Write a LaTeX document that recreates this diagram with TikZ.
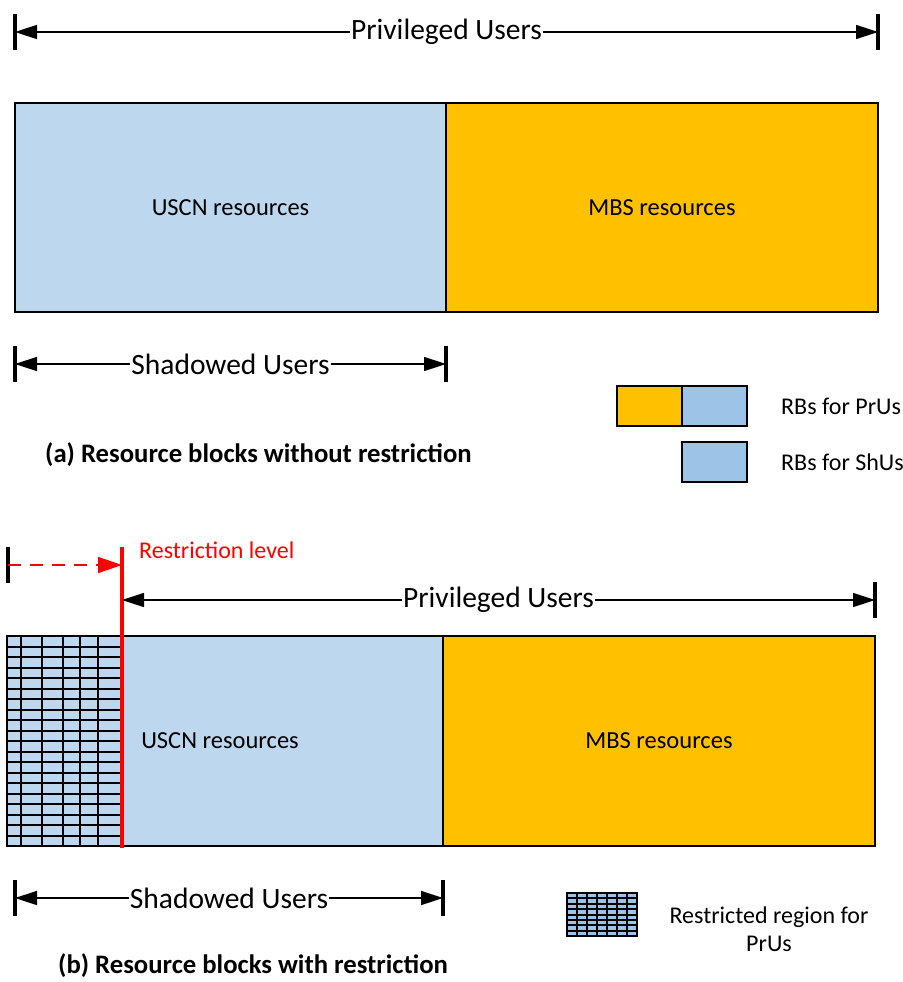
\documentclass[tikz,border=0pt]{standalone}
\usepackage{fontspec}
\setmainfont{Carlito}
\usepackage{tikz}
\usetikzlibrary{positioning}
\usetikzlibrary{arrows.meta}
\definecolor{uscnblue}{HTML}{BDD7EE}
\definecolor{legendblue}{HTML}{9DC3E6}
\definecolor{mbsorange}{HTML}{FFC000}
\definecolor{restrictred}{HTML}{FF0000}
\tikzstyle{res block}=[draw,line width=1.5pt,inner sep=0pt,outer sep=0pt,font=\fontsize{24.5}{28}\selectfont]
\tikzstyle{legend box}=[draw,line width=1.5pt,inner sep=0pt,outer sep=0pt,minimum width=65pt,minimum height=40pt]
\tikzstyle{legend text}=[anchor=west,inner sep=0pt,font=\fontsize{24}{28}\selectfont]
\tikzstyle{caption text}=[anchor=west,inner sep=0pt,font=\fontsize{26.7}{30}\bfseries\selectfont]
\tikzstyle{dim tick}=[line width=3.5pt]
\tikzstyle{dim edge}=[{Triangle[length=22pt,width=14pt]}-{Triangle[length=22pt,width=14pt]},line width=1.5pt]
\tikzstyle{dim label}=[fill=white,inner xsep=1pt,inner ysep=0pt,font=\fontsize{29.5}{32}\selectfont]
\tikzstyle{grid edge}=[line width=2pt]
\tikzstyle{restrict edge}=[-{Triangle[length=24pt,width=16pt]},restrictred,line width=1.5pt,dash pattern=on 13pt off 9pt]
\newcommand{\dimend}[3]{
  \coordinate (#1) at (#2,#3);
  \draw[dim tick] ([yshift=18pt]#1) -- ([yshift=-18pt]#1)
}

\begin{document}
\begin{tikzpicture}[x=1pt,y=-1pt]
        \useasboundingbox (0,0) rectangle (902,982);

        \dimend{pal}{15}{32};
        \dimend{par}{878}{32};
        \draw[dim edge] (pal) -- node[dim label]{Privileged Users} (par);

        \node[res block,anchor=north west,fill=uscnblue,minimum width=431pt,minimum height=209pt] (uscnA) at (15,103) {USCN resources};
        \node[res block,right=0pt of uscnA,fill=mbsorange,minimum width=432pt,minimum height=209pt] (mbsA) {MBS resources};

        \dimend{sal}{15}{364};
        \dimend{sar}{446}{364};
        \draw[dim edge] (sal) -- node[dim label]{Shadowed Users} (sar);

        \node[legend box,anchor=north west,fill=mbsorange] (legPrO) at (617,386) {};
        \node[legend box,right=0pt of legPrO,fill=legendblue] (legPrB) {};
        \node[legend text,right=34pt of legPrB] (legPrT) {RBs for PrUs};
        \node[legend box,below=16pt of legPrB,fill=legendblue] (legSh) {};
        \node[legend text,right=34pt of legSh] (legShT) {RBs for ShUs};

        \node[caption text] (capA) at (45,455) {(a) Resource blocks without restriction};

        \node[res block,anchor=north west,fill=uscnblue,minimum width=436pt,minimum height=210pt] (uscnB) at (7,636) {\hspace*{-10pt}USCN resources};
        \node[res block,right=0pt of uscnB,fill=mbsorange,minimum width=432pt,minimum height=210pt] (mbsB) {MBS resources};

        \coordinate (rtop) at (122,547);
        \coordinate (rbot) at (122,848);
        \foreach \gx in {14,35,56,73,91}
          \draw[grid edge] ([xshift=\gx pt]uscnB.north west) -- ([xshift=\gx pt]uscnB.south west);
        \foreach \gy in {1,...,19}
          \draw[grid edge] ([yshift=-10.5*\gy pt]uscnB.north west) -- ([yshift=-10.5*\gy pt]uscnB.north west -| rtop);
        \draw[line width=1.5pt] (uscnB.north west) rectangle (uscnB.south east);
        \draw[restrictred,line width=3.5pt] (rtop) -- (rbot);

        \dimend{rll}{8}{565};
        \coordinate (rlr) at (122,565);
        \draw[restrict edge] (rll) -- (rlr);
        \node[anchor=west,inner sep=0pt,text=restrictred,font=\fontsize{24}{28}\selectfont] (rlabel) at (139,550) {Restriction level};

        \coordinate (pbl) at (122,600);
        \dimend{pbr}{875}{600};
        \draw[dim edge] (pbl) -- node[dim label]{Privileged Users} (pbr);

        \dimend{sbl}{15}{898};
        \dimend{sbr}{443}{898};
        \draw[dim edge] (sbl) -- node[dim label]{Shadowed Users} (sbr);

        \node[legend box,anchor=north west,fill=legendblue,minimum width=70pt,minimum height=43pt] (legRes) at (567,893) {};
        \foreach \lx in {1,...,6}
          \draw[grid edge] ([xshift=10*\lx pt]legRes.north west) -- ([xshift=10*\lx pt]legRes.south west);
        \foreach \ly in {1,...,7}
          \draw[grid edge] ([yshift=-5.375*\ly pt]legRes.north west) -- ([yshift=-5.375*\ly pt]legRes.north east);
        \node[legend text,anchor=center,align=center,font=\fontsize{24}{28}\selectfont] (legResT) at (769,929) {Restricted region for\\PrUs};

        \node[caption text] (capB) at (58,966) {(b) Resource blocks with restriction};
      \end{tikzpicture}
\end{document}
